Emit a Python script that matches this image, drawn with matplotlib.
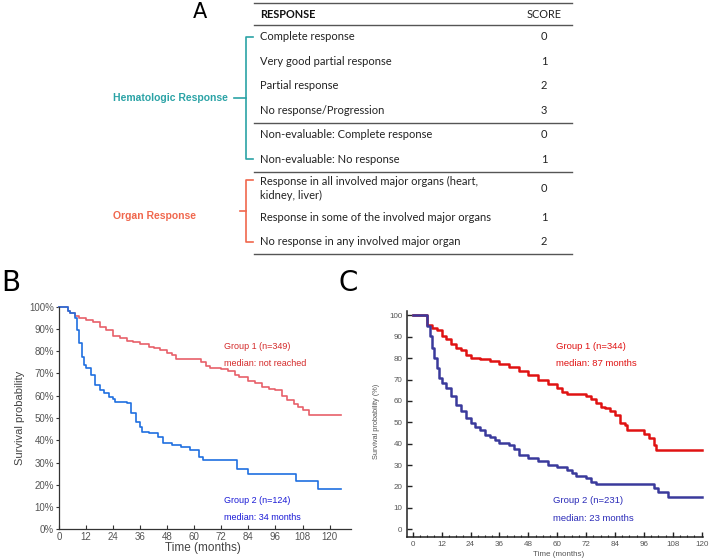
import numpy as np
import matplotlib.pyplot as plt
from matplotlib.ticker import MultipleLocator, FuncFormatter

W, H = 709, 559

# ---- table A data ----
resp_header = "RESPONSE"
score_header = "SCORE"
resp_rows = ["Complete response", "Very good partial response", "Partial response",
             "No response/Progression", "Non-evaluable: Complete response",
             "Non-evaluable: No response",
             "Response in all involved major organs (heart,\nkidney, liver)",
             "Response in some of the involved major organs",
             "No response in any involved major organ"]
scores = [0, 1, 2, 3, 0, 1, 0, 1, 2]
hema_label = "Hematologic Response"
organ_label = "Organ Response"

# ---- panel B data (months, survival %) ----
tB1 = [0, 4, 5, 7, 9, 12, 15, 18, 21, 24, 27, 30, 33, 36, 40, 42, 45, 48, 50, 52,
       63, 65, 67, 72, 75, 78, 80, 84, 87, 90, 93, 96, 99, 101, 104, 106, 108, 111, 125]
sB1 = [100, 98, 97, 96, 95, 94, 93, 91, 89.5, 87, 86, 84.7, 84, 83.3, 82, 81.3, 80.5, 79.3, 78.3, 76.5,
       75, 73.5, 72.5, 72, 71, 69.5, 68.3, 66.5, 65.5, 64, 63, 62.5, 60, 58, 56.5, 55, 53.6, 51.5, 51.5]
tB2 = [0, 4, 5, 7, 8, 9, 10, 11, 12, 14, 16, 18, 20, 22, 24, 25, 30, 32, 34, 36, 37,
       40, 44, 46, 50, 54, 58, 62, 64, 79, 84, 105, 115, 125]
sB2 = [100, 98, 97, 95, 89.5, 83.5, 77.5, 73.8, 72.3, 69.3, 64.8, 62.6, 61.4, 59.3, 58.4, 57.3, 56.6, 52.1, 48.4, 46.1, 43.9,
       43.1, 41.6, 38.9, 37.9, 36.8, 35.6, 32.6, 31.1, 27.1, 24.9, 21.9, 18.1, 18.1]
labB1 = ["Group 1 (n=349)", "median: not reached"]
labB2 = ["Group 2 (n=124)", "median: 34 months"]

# ---- panel C data ----
tC1 = [0, 6, 8, 10, 12, 14, 16, 18, 20, 22, 24, 28, 32, 36, 40, 44, 48, 52, 56, 60, 62, 64,
       72, 74, 76, 78, 80, 82, 84, 86, 88, 89, 96, 98, 100, 101, 120]
sC1 = [100, 95.6, 94.1, 93, 90.2, 88.9, 86.7, 84.7, 83.9, 81.6, 80, 79.6, 78.9, 77.4, 75.8, 74.1, 72.2, 69.6, 68, 66, 64.4, 63.3,
       62.4, 60.8, 59, 57.4, 56.6, 55.5, 53.5, 49.9, 48.8, 46.5, 44.6, 42.6, 39.5, 37.1, 37.1]
tC2 = [0, 6, 7, 8, 9, 10, 11, 12, 14, 16, 18, 20, 22, 24, 26, 28, 30, 32, 34, 36, 40, 42, 44,
       48, 52, 56, 60, 64, 66, 68, 72, 74, 76, 100, 102, 106, 120]
sC2 = [100, 94.9, 90.2, 84.7, 80, 75.4, 70.7, 68.3, 66, 62.1, 58.2, 55.1, 51.9, 49.9, 48, 46.5, 44.1, 43.1, 41.8, 40.2, 39.5, 37.4, 34.8,
       33.2, 31.7, 30.1, 28.9, 27.8, 26.2, 25, 23.9, 22.3, 21.2, 19.2, 17.6, 15.3, 15.3]
labC1 = ["Group 1 (n=344)", "median: 87 months"]
labC2 = ["Group 2 (n=231)", "median: 23 months"]

teal = '#2ba3a6'
coral = '#f0674d'

fig = plt.figure(figsize=(W / 100, H / 100), dpi=100)

def px(x, y):
    return x / W, 1 - y / H

# ---------------- panel A (table) ----------------
a0 = fig.add_axes([0, 0, 1, 1])
a0.set_xlim(0, W)
a0.set_ylim(H, 0)
a0.axis('off')

tf = 'Lato'
x0, x1 = 254, 572
xs = 544
a0.text(200, 12, "A", fontsize=15, ha='center', va='center', family='DejaVu Sans')
a0.plot([x0, x1], [3, 3], color='#555555', lw=1)
a0.text(260, 14, resp_header, fontsize=7.8, fontweight='bold', va='center', family=tf, color='#111111')
a0.text(xs, 14, score_header, fontsize=7.8, va='center', ha='center', family=tf, color='#222222')
a0.plot([x0, x1], [24.5, 24.5], color='#555555', lw=1)

rh = 24.5
y = 24.5
centers = []
for i, (r, s) in enumerate(zip(resp_rows, scores)):
    h = rh + 9 * r.count('\n')
    yc = y + h / 2
    centers.append(yc)
    a0.text(260, yc, r, fontsize=8, va='center', family=tf, color='#222222', linespacing=1.35)
    a0.text(xs, yc, str(s), fontsize=8, va='center', ha='center', family=tf, color='#222222')
    y += h
    if i in (3, 5, 8):
        a0.plot([x0, x1], [y, y], color='#555555', lw=1)

# brackets
bx = 246
top, bot = centers[0], centers[5]
a0.plot([253, bx, bx, 253], [top, top, bot, bot], color=teal, lw=1.2)
mid = (top + bot) / 2
a0.plot([234, bx], [mid, mid], color=teal, lw=1.2)
a0.text(228, mid, hema_label, color=teal, fontsize=7.5, fontweight='bold', ha='right', va='center',
        family='Liberation Sans')

top, bot = centers[6] - 8, centers[8]
a0.plot([253, bx, bx, 253], [top, top, bot, bot], color=coral, lw=1.2)
mid = (top + bot) / 2
a0.plot([240, bx], [mid, mid], color=coral, lw=1.2)
a0.text(196, mid + 5, organ_label, color=coral, fontsize=7.5, fontweight='bold', ha='right', va='center',
        family='Liberation Sans')

a0.text(1, 283, "B", fontsize=20, ha='left', va='center', family='DejaVu Sans')
a0.text(339, 283, "C", fontsize=20, ha='left', va='center', family='DejaVu Sans')

# ---------------- panel B ----------------
l, b = px(59, 529.3)
axB = fig.add_axes([l, b, (351 - 59) / W, (529.3 - 306.7) / H])
axB.step(tB1, sB1, where='post', color='#e8606a', lw=1.2, clip_on=False)
axB.step(tB2, sB2, where='post', color='#1f6fe0', lw=1.2, clip_on=False)
axB.set_xlim(0, 129.5)
axB.set_ylim(0, 100)
axB.xaxis.set_major_locator(MultipleLocator(12))
axB.yaxis.set_major_locator(MultipleLocator(10))
axB.yaxis.set_major_formatter(FuncFormatter(lambda v, p: '%d%%' % v))
for sp in ['top', 'right']:
    axB.spines[sp].set_visible(False)
for sp in ['left', 'bottom']:
    axB.spines[sp].set_color('#333333')
    axB.spines[sp].set_linewidth(0.9)
axB.tick_params(axis='x', direction='in', length=3, labelsize=7, colors='#333333', labelcolor='#555555', pad=2)
axB.tick_params(axis='y', direction='out', length=2.5, labelsize=7, colors='#333333', labelcolor='#555555', pad=1)
for lab in axB.get_xticklabels() + axB.get_yticklabels():
    lab.set_family('Liberation Sans')
axB.text(73.3, 82, labB1[0], color='#d42a2a', fontsize=6.5, va='center', family='Liberation Sans')
axB.text(73.3, 74.7, labB1[1], color='#d42a2a', fontsize=6.5, va='center', family='Liberation Sans')
axB.text(73.3, 12.8, labB2[0], color='#1a1ad6', fontsize=6.5, va='center', family='Liberation Sans')
axB.text(73.3, 5.1, labB2[1], color='#1a1ad6', fontsize=6.5, va='center', family='Liberation Sans')
fx, fy = px(203, 548)
fig.text(fx, fy, "Time (months)", fontsize=8.5, ha='center', va='center', color='#444444', family='Liberation Sans')
fx, fy = px(20, 418)
fig.text(fx, fy, "Survival probability", fontsize=8, ha='center', va='center', rotation=90,
         color='#444444', family='Liberation Sans')

# ---------------- panel C ----------------
l, b = px(406.7, 536.7)
axC = fig.add_axes([l, b, 296.2 / W, 225.5 / H])
axC.step(tC1, sC1, where='post', color='#e01212', lw=1.8, clip_on=False)
axC.step(tC2, sC2, where='post', color='#3a3a9c', lw=1.8, clip_on=False)
axC.set_xlim(-2.5, 120.5)
axC.set_ylim(-3.5, 102)
axC.xaxis.set_major_locator(MultipleLocator(12))
axC.xaxis.set_minor_locator(MultipleLocator(3))
axC.yaxis.set_major_locator(MultipleLocator(10))
for sp in ['top', 'right']:
    axC.spines[sp].set_visible(False)
for sp in ['left', 'bottom']:
    axC.spines[sp].set_color('#222222')
    axC.spines[sp].set_linewidth(1.1)
axC.tick_params(axis='both', which='major', direction='in', length=3.5, width=1, labelsize=5.8,
                colors='#222222', labelcolor='#555555', pad=3)
axC.tick_params(axis='x', which='minor', direction='in', length=1.8, width=0.8, colors='#222222')
for lab in axC.get_xticklabels() + axC.get_yticklabels():
    lab.set_family('Liberation Sans')
axC.text(59.4, 85.4, labC1[0], color='#e01212', fontsize=6.8, va='center', family='Liberation Sans')
axC.text(59.4, 77.5, labC1[1], color='#e01212', fontsize=6.8, va='center', family='Liberation Sans')
axC.text(58.3, 13.4, labC2[0], color='#2a2ab8', fontsize=6.8, va='center', family='Liberation Sans')
axC.text(58.3, 5.0, labC2[1], color='#2a2ab8', fontsize=6.8, va='center', family='Liberation Sans')
fx, fy = px(559, 554)
fig.text(fx, fy, "Time (months)", fontsize=5.8, ha='center', va='center', color='#555555', family='Liberation Sans')
fx, fy = px(377, 421)
fig.text(fx, fy, "Survival probability (%)", fontsize=5.3, ha='center', va='center', rotation=90,
         color='#555555', family='Liberation Sans')

plt.savefig('out.png', dpi=100)
